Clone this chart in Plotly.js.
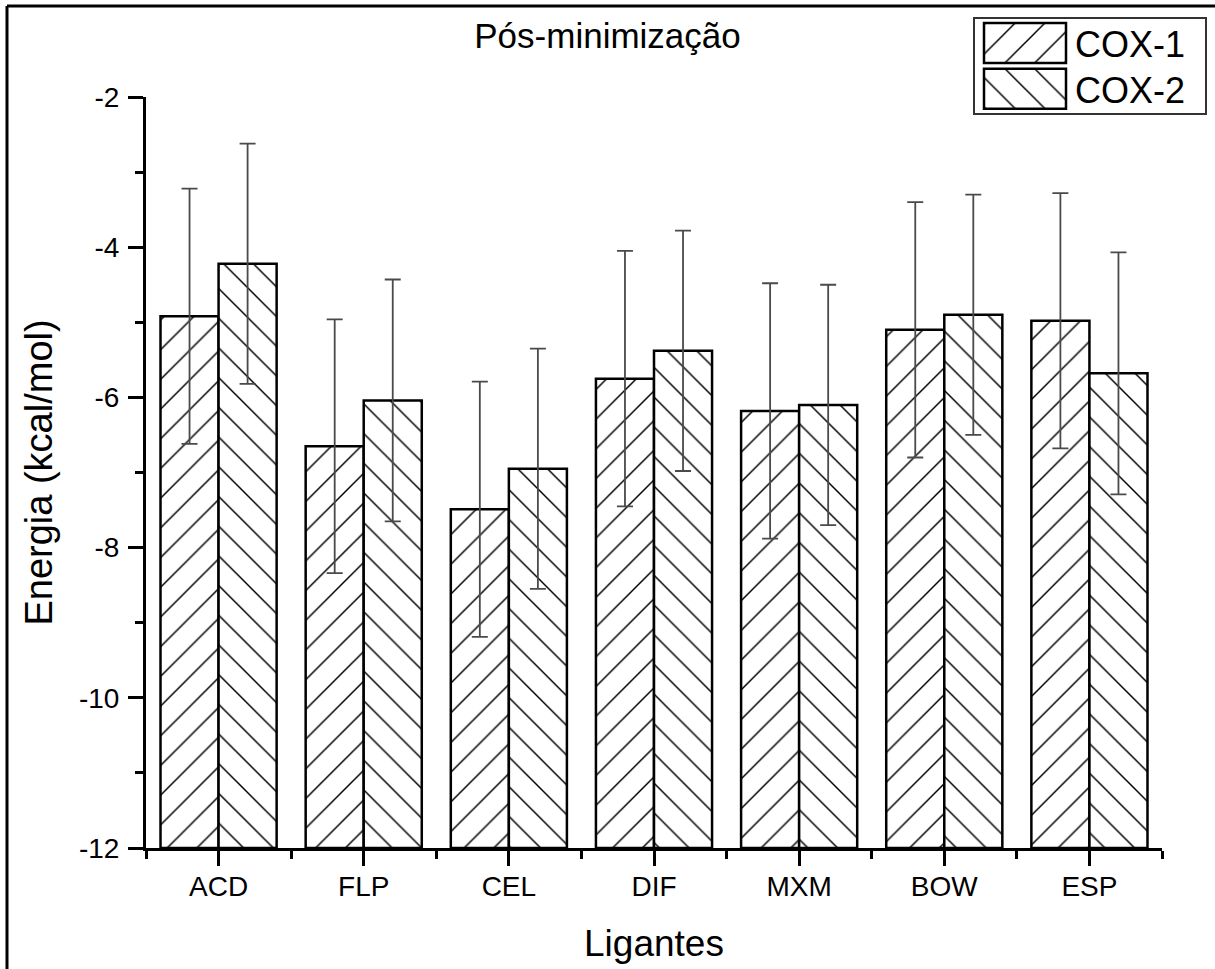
<!DOCTYPE html>
<html><head><meta charset="utf-8">
<script src="https://cdn.plot.ly/plotly-3.0.1.min.js"></script>
<style>body{margin:0;background:#fff}</style>
</head><body><div id="chart" style="width:1215px;height:969px"></div>
<script>
const categories = ['ACD','FLP','CEL','DIF','MXM','BOW','ESP'];
const seriesNames = ['COX-1','COX-2'];
const cox1 = [-4.92,-6.65,-7.49,-5.75,-6.18,-5.10,-4.98];
const cox1Err = [1.70,1.69,1.70,1.70,1.70,1.70,1.70];
const cox2 = [-4.22,-6.04,-6.95,-5.38,-6.10,-4.90,-5.68];
const cox2Err = [1.60,1.61,1.60,1.60,1.60,1.60,1.61];
const yTicks = [-12,-10,-8,-6,-4,-2];
const baseValue = -12;

const positions = categories.map((c,i)=>i);
const boundaries = categories.map((c,i)=>i-0.5).concat([categories.length-0.5]);

function barTrace(name, vals, errs, shape){
  return {
    type:'bar', name:name, x:positions, base:baseValue,
    y: vals.map(v=>v-baseValue),
    marker:{color:'white', line:{color:'black', width:2.5},
      pattern:{shape:shape, fgcolor:'black', bgcolor:'white', size:21, solidity:0.07, fillmode:'replace'}},
    error_y:{type:'data', array:errs, visible:true, color:'#4a4a4a', thickness:1.8, width:8}
  };
}

const data = [
  barTrace(seriesNames[0], cox1, cox1Err, '/'),
  barTrace(seriesNames[1], cox2, cox2Err, '\\')
];

const layout = {
  width:1215, height:969,
  margin:{l:146, r:53, t:97, b:121, pad:0},
  paper_bgcolor:'white', plot_bgcolor:'white',
  font:{family:'Liberation Sans, Arial, sans-serif', color:'black', size:28},
  title:{text:'Pós-minimização', font:{size:35, color:'black'}, x:0.5, xref:'container', xanchor:'center', y:1-36/969, yref:'container', yanchor:'middle'},
  barmode:'group', bargap:0.2, bargroupgap:0,
  showlegend:true,
  legend:{x:(973-146)/1016, xanchor:'left', y:(848-17)/751, yanchor:'top', bordercolor:'#333', borderwidth:2,
    font:{size:36}, itemwidth:90, bgcolor:'white', tracegroupgap:0},
  xaxis:{type:'linear', range:[-0.5, categories.length-0.5], tickmode:'array', tickvals:positions, ticktext:categories,
    showline:true, linecolor:'black', linewidth:3, ticks:'outside', ticklen:15, tickwidth:3, tickcolor:'black',
    showgrid:false, zeroline:false, tickfont:{size:28}, ticklabelstandoff:-4,
    minor:{tickmode:'array', tickvals:boundaries, ticks:'outside', ticklen:8, tickwidth:3, tickcolor:'black', showgrid:false},
    title:{text:'Ligantes', font:{size:37}, standoff:30}},
  yaxis:{range:[-12,-2], tickmode:'array', tickvals:yTicks, ticktext:yTicks.map(String), ticks:'outside', ticklen:15, tickwidth:3, tickcolor:'black',
    showline:true, linecolor:'black', linewidth:3, showgrid:false, zeroline:false, tickfont:{size:28}, ticklabelstandoff:3,
    minor:{tickmode:'linear', tick0:-12, dtick:1, ticks:'outside', ticklen:8, tickwidth:3, tickcolor:'black', showgrid:false},
    title:{text:'Energia (kcal/mol)', font:{size:38}, standoff:15}},
  shapes:[
    {type:'line', xref:'paper', yref:'paper', x0:(7-146)/1016, x1:(1230-146)/1016, y0:(848-6)/751, y1:(848-6)/751, line:{color:'black', width:3}},
    {type:'line', xref:'paper', yref:'paper', x0:(7-146)/1016, x1:(7-146)/1016, y0:(848-6)/751, y1:(848-1000)/751, line:{color:'black', width:3}}
  ]
};

const gd = document.getElementById('chart');
const legendShift = [-6, -10];
function fixLegend(){
  const bars = gd.querySelectorAll('.barlayer .trace');
  const legend = gd.querySelector('.legend');
  if(!legend) return;
  const bg = legend.querySelector('rect.bg');
  if(bg && !bg.dataset.fixed){
    bg.setAttribute('width', 232);
    bg.setAttribute('height', 96);
    bg.dataset.fixed = '1';
  }
  const legs = legend.querySelectorAll('.traces');
  legs.forEach(function(lg, i){
    const p = lg.querySelector('path.legendbar') || lg.querySelector('.legendpoints path');
    if(p){
      p.setAttribute('d','M41,20H-41V-20H41Z');
      const bp = bars[i] && bars[i].querySelector('.point path');
      if(bp && bp.style.fill){ p.style.fill = bp.style.fill; }
      p.style.stroke = 'black';
      p.style.strokeWidth = '2.5px';
    }
    if(!lg.dataset.fixed){
      const t = lg.getAttribute('transform') || '';
      const m = t.match(/translate\(\s*([-\d.e]+)[ ,]+([-\d.e]+)\s*\)/);
      if(m){
        lg.setAttribute('transform', 'translate(' + m[1] + ',' + (parseFloat(m[2]) + (legendShift[i]||0)) + ')');
        lg.dataset.fixed = '1';
      }
    }
  });
}
Plotly.newPlot(gd, data, layout, {staticPlot:true}).then(function(){
  fixLegend();
  gd.on('plotly_afterplot', fixLegend);
  setTimeout(fixLegend, 30);
  setTimeout(fixLegend, 200);
});
</script>
</body></html>
